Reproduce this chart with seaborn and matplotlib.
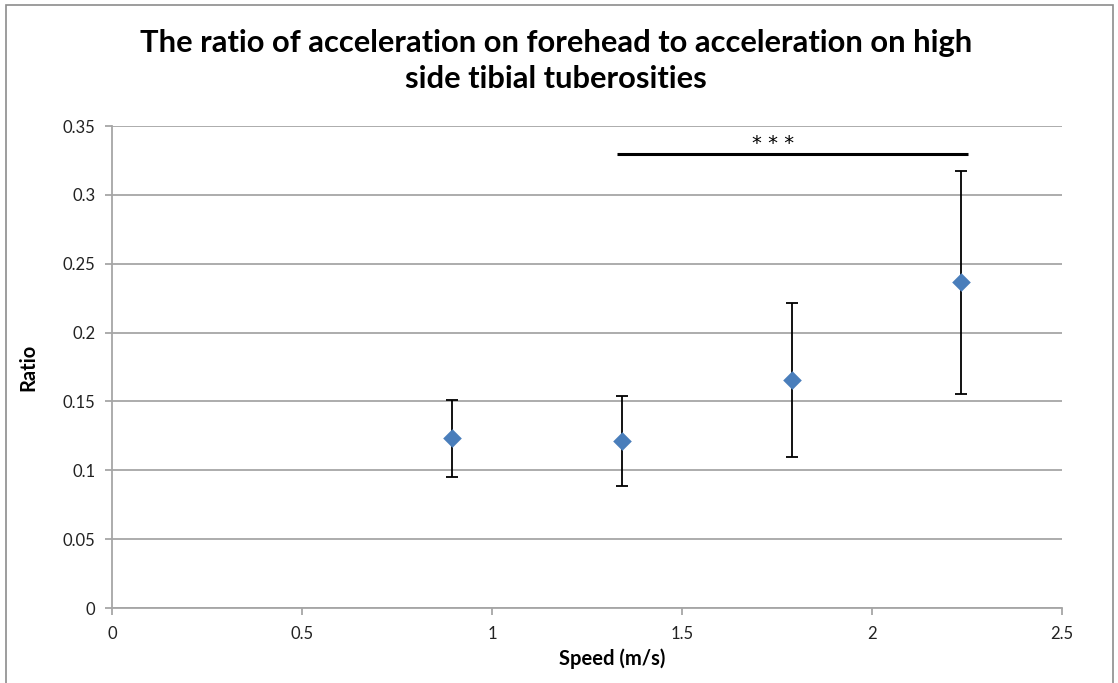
import matplotlib
matplotlib.use("Agg")
import matplotlib.pyplot as plt
import seaborn as sns
import pandas as pd
from matplotlib.patches import Rectangle

speed = [0.894, 1.341, 1.788, 2.235]
ratio = [0.1232, 0.1213, 0.1654, 0.2365]
sd = [0.028, 0.033, 0.056, 0.081]
sig_x = [1.328, 2.252]
sig_y = 0.330
sig_text = "* * *"
x_ticks = [0, 0.5, 1, 1.5, 2, 2.5]
y_ticks = [0, 0.05, 0.1, 0.15, 0.2, 0.25, 0.3, 0.35]
title = "The ratio of acceleration on forehead to acceleration on high\nside tibial tuberosities"

sns.set_theme(style="white")
plt.rcParams['font.family'] = ['Lato', 'DejaVu Sans']

df = pd.DataFrame({"speed": speed, "ratio": ratio, "sd": sd})

fig = plt.figure(figsize=(11.18, 6.83), dpi=100)
ax = fig.add_axes([0.1002, 0.1098, 0.8498, 0.7057])

ax.errorbar(df["speed"], df["ratio"], yerr=df["sd"], fmt="none", ecolor="black",
            elinewidth=1.3, capsize=4.5, capthick=1.3, zorder=3)
sns.scatterplot(data=df, x="speed", y="ratio", marker="D", s=90, color="#4a7ebb",
                edgecolor="#4a7ebb", linewidth=0, ax=ax, zorder=4)

ax.plot(sig_x, [sig_y, sig_y], color="black", lw=2.2, solid_capstyle="butt", zorder=3)
ax.text(sum(sig_x) / 2 - 0.05, sig_y + 0.0005, sig_text, ha="center", va="bottom", fontsize=14,
        color="black", family=['DejaVu Sans'])

ax.set_xlim(0, 2.5)
ax.set_ylim(0, 0.35)
ax.set_xticks(x_ticks)
ax.set_xticklabels([f"{t:g}" for t in x_ticks])
ax.set_yticks(y_ticks)
ax.set_yticklabels([f"{t:g}" for t in y_ticks])
ax.yaxis.grid(True, color="#a6a6a6", lw=1.3)
ax.xaxis.grid(False)
for s in ["top", "right"]:
    ax.spines[s].set_visible(False)
for s in ["left", "bottom"]:
    ax.spines[s].set_color("#a6a6a6")
    ax.spines[s].set_linewidth(1.3)
ax.tick_params(axis="both", which="major", length=5, width=1.3, color="#a6a6a6",
               labelsize=12, labelcolor="#222222", direction="out", bottom=True, left=True)
ax.tick_params(axis="x", pad=8)
ax.tick_params(axis="y", pad=7)

ax.set_xlabel("Speed (m/s)", fontsize=14.5, fontweight="bold", color="black")
ax.set_ylabel("Ratio", fontsize=14.5, fontweight="bold", color="black")
ax.xaxis.set_label_coords(0.526, -0.083)
ax.yaxis.set_label_coords(-0.078, 0.5)

fig.text(0.497, 0.958, title, ha="center", va="top", fontsize=22.2, fontweight="bold",
         color="black", linespacing=1.38)

fig.patches.append(Rectangle((0.0054, -0.05), 0.99, 1.043, transform=fig.transFigure,
                             fill=False, edgecolor="#8c8c8c", lw=1.2))

fig.savefig("out.png", dpi=100)
